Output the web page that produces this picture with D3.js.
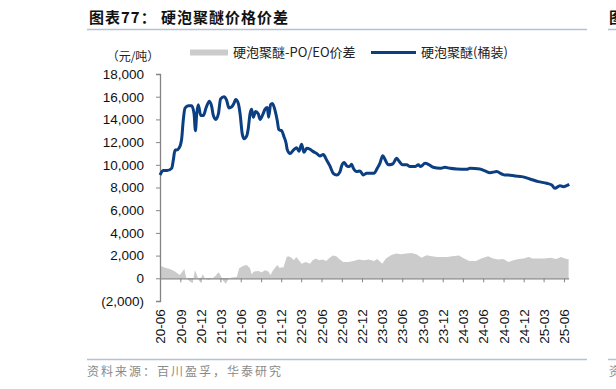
<!DOCTYPE html>
<html>
<head>
<meta charset="utf-8">
<script src="https://cdn.jsdelivr.net/npm/d3@7"></script>
<style>
  html, body { margin: 0; padding: 0; background: #fff; }
  svg { display: block; }
  .cjk { font-family: "Noto Sans CJK SC", sans-serif; }
  .num { font-family: "Liberation Sans", Arial, sans-serif; }
</style>
</head>
<body>
<div id="chart"></div>
<script>
// 硬泡聚醚(桶装) price, yuan/ton
const priceDates = [
  '2020-06-01','2020-06-16','2020-07-03','2020-07-24','2020-07-31','2020-08-08','2020-08-15','2020-08-27','2020-09-07','2020-09-14',
  '2020-09-22','2020-10-07','2020-10-22','2020-11-02','2020-11-08','2020-11-14','2020-11-21','2020-12-02','2020-12-14','2020-12-26',
  '2021-01-10','2021-01-21','2021-01-28','2021-02-08','2021-02-20','2021-03-02','2021-03-17','2021-03-29','2021-04-09','2021-04-21',
  '2021-05-01','2021-05-09','2021-05-21','2021-05-29','2021-06-08','2021-06-16','2021-06-28','2021-07-05','2021-07-13','2021-07-20',
  '2021-07-28','2021-08-07','2021-08-19','2021-08-27','2021-09-08','2021-09-19','2021-09-29','2021-10-05','2021-10-14','2021-10-22',
  '2021-11-03','2021-11-13','2021-11-20','2021-12-03','2021-12-13','2021-12-23','2021-12-28',
  '2022-01-10','2022-01-25','2022-02-09','2022-02-19','2022-03-03','2022-03-14','2022-03-26','2022-04-10','2022-04-25','2022-05-10',
  '2022-05-25','2022-06-09','2022-06-24','2022-07-09','2022-07-24','2022-08-09','2022-08-24','2022-08-31','2022-09-12','2022-09-23',
  '2022-10-05','2022-10-15','2022-10-23','2022-11-07','2022-11-22','2022-12-07','2022-12-22',
  '2023-01-06','2023-01-24','2023-02-08','2023-02-20','2023-03-05','2023-03-15','2023-03-30','2023-04-19','2023-05-07','2023-05-19',
  '2023-06-03','2023-06-21','2023-07-06','2023-07-29','2023-08-13','2023-08-23','2023-09-12','2023-10-01','2023-10-19','2023-11-19',
  '2023-12-11',
  '2024-01-03','2024-02-02','2024-03-18','2024-04-02','2024-05-17','2024-06-09','2024-07-02','2024-08-01','2024-08-24','2024-09-07',
  '2024-09-22','2024-10-23','2024-11-22','2024-12-29',
  '2025-02-05','2025-03-15','2025-04-07','2025-04-21','2025-05-14','2025-05-29','2025-06-13','2025-06-25'
]
const priceValues = [
  9100,9500,9500,9700,10400,11300,11300,11500,12300,13900,
  15000,15200,15200,14500,13000,14500,15300,14350,14350,15000,
  15600,15100,14350,14000,14500,15800,16000,15700,15000,15100,
  15400,15750,15400,14500,12700,12300,12550,13200,14500,14900,
  14200,14700,14500,14000,14400,14900,15050,14200,15300,15400,
  14800,13900,13100,13000,12500,11900,11350,
  11000,11300,11500,11200,11800,11100,11450,11370,11160,11000,
  10780,10900,10430,9900,9250,9100,9400,9900,10200,9900,
  9840,10040,9690,9400,9450,9100,9250,
  9250,9250,9690,10130,10800,10480,10000,10070,10570,10280,
  10000,10000,9840,9840,10000,9850,10130,10000,9780,9690,
  9780,
  9690,9630,9600,9690,9630,9460,9310,9400,9190,9100,
  9100,9010,8960,8750,
  8520,8370,8220,7930,8160,8070,8160,8280
]

// 硬泡聚醚 - PO/EO spread, yuan/ton
const spreadDates = [
  '2020-06-01','2020-06-24','2020-07-16','2020-08-08','2020-08-23','2020-08-30','2020-09-12','2020-09-19','2020-09-27','2020-10-15',
  '2020-10-27','2020-11-06','2020-11-17','2020-11-26','2020-12-11','2020-12-21',
  '2021-01-05','2021-01-21','2021-02-05','2021-02-20','2021-02-27','2021-03-14','2021-03-26','2021-04-06','2021-04-21','2021-05-14',
  '2021-05-25','2021-06-13','2021-06-28','2021-07-13','2021-07-20','2021-07-31','2021-08-19','2021-09-04','2021-09-19','2021-10-04',
  '2021-10-14','2021-10-23','2021-11-03','2021-11-13','2021-11-25','2021-12-04','2021-12-10','2021-12-18','2021-12-26',
  '2022-01-04','2022-01-16','2022-01-27','2022-02-07','2022-02-19','2022-03-03','2022-03-22','2022-04-10','2022-04-22','2022-05-07',
  '2022-05-22','2022-06-07','2022-06-22','2022-07-08','2022-07-23','2022-08-07','2022-08-23','2022-09-07','2022-09-30','2022-10-24',
  '2022-11-16','2022-12-09',
  '2023-01-01','2023-01-24','2023-02-08','2023-03-03','2023-03-19','2023-04-11','2023-05-04','2023-05-27','2023-06-19','2023-07-12',
  '2023-08-04','2023-08-27','2023-09-19','2023-10-13','2023-11-05','2023-12-21',
  '2024-01-13','2024-02-12','2024-03-07','2024-03-30','2024-04-29','2024-05-23','2024-06-23','2024-07-16','2024-08-08','2024-08-31',
  '2024-09-23','2024-10-16','2024-11-08','2024-12-01','2024-12-24',
  '2025-01-09','2025-03-04','2025-04-03','2025-04-26','2025-05-19','2025-06-12','2025-06-22'
]
const spreadValues = [
  1100,940,820,590,380,300,650,820,60,-300,
  -410,735,150,-300,350,30,
  -120,-50,180,530,350,-240,-470,-60,60,120,
  880,1100,1180,880,350,590,650,530,700,590,
  300,650,940,1180,880,1000,900,1400,1900,
  1940,1820,1590,1880,1590,1290,1440,1290,1590,1740,
  1590,1650,1530,1820,2000,1940,1650,1440,1440,1530,
  1650,1590,
  1650,1530,1710,1290,1740,2030,2180,2120,2180,2240,
  2120,1820,2030,1940,1880,1880,
  1940,2000,1740,1530,1530,1740,1940,1740,1650,1710,
  1440,1590,1710,1740,1880,
  1740,1740,1820,1710,1880,1710,1700
]

const xTickLabels = ['20-06','20-09','20-12','21-03','21-06','21-09','21-12','22-03','22-06','22-09','22-12',
  '23-03','23-06','23-09','23-12','24-03','24-06','24-09','24-12','25-03','25-06']
const yTickValues = [-2000, 0, 2000, 4000, 6000, 8000, 10000, 12000, 14000, 16000, 18000]
const seriesNames = ['硬泡聚醚-PO/EO价差', '硬泡聚醚(桶装)']

const width = 616
const height = 389
const lineColor = '#0b3f82'
const areaColor = '#cbcbcb'
const axisColor = '#858585'
const ruleColor = '#b3c3d4'

const parseDate = d3.timeParse('%Y-%m-%d')
const parseTick = d3.timeParse('%y-%m')
const price = priceDates.map((d, i) => ({ date: parseDate(d), value: priceValues[i] }))
const spread = spreadDates.map((d, i) => ({ date: parseDate(d), value: spreadValues[i] }))
const tickDates = xTickLabels.map(parseTick)

const svg = d3.select('#chart').append('svg')
  .attr('width', width)
  .attr('height', height)

// Scales
const x = d3.scaleTime()
  .domain([parseDate('2020-06-01'), parseDate('2025-06-22')])
  .range([160, 568.6])
const y = d3.scaleLinear()
  .domain([-2000, 18000])
  .range([301, 74])

// Title and rules
svg.append('text')
  .attr('class', 'cjk')
  .attr('x', 89).attr('y', 23)
  .attr('font-size', 15).attr('font-weight', 700)
  .attr('letter-spacing', 1)
  .attr('fill', '#111')
  .text('图表77： 硬泡聚醚价格价差')
svg.append('text')
  .attr('class', 'cjk')
  .attr('x', 609).attr('y', 23)
  .attr('font-size', 15).attr('font-weight', 700)
  .attr('fill', '#111')
  .text('图')
svg.append('line')
  .attr('x1', 87).attr('x2', 587).attr('y1', 29.5).attr('y2', 29.5)
  .attr('stroke', ruleColor).attr('stroke-width', 1.5)
svg.append('line')
  .attr('x1', 608).attr('x2', 616).attr('y1', 29.5).attr('y2', 29.5)
  .attr('stroke', ruleColor).attr('stroke-width', 1.5)

// Unit
svg.append('text')
  .attr('class', 'cjk')
  .attr('x', 133).attr('y', 61)
  .attr('text-anchor', 'middle')
  .attr('font-size', 12)
  .attr('fill', '#222')
  .text('（元/吨）')

// Legend
const legend = svg.append('g').attr('class', 'legend')
legend.append('rect')
  .attr('x', 190).attr('y', 49.5).attr('width', 38).attr('height', 6)
  .attr('fill', areaColor)
legend.append('text')
  .attr('class', 'cjk')
  .attr('x', 233).attr('y', 57)
  .attr('font-size', 13)
  .attr('fill', '#222')
  .text(seriesNames[0])
legend.append('line')
  .attr('x1', 371).attr('x2', 416).attr('y1', 52.5).attr('y2', 52.5)
  .attr('stroke', lineColor).attr('stroke-width', 3)
legend.append('text')
  .attr('class', 'cjk')
  .attr('x', 421).attr('y', 57)
  .attr('font-size', 13)
  .attr('fill', '#222')
  .text(seriesNames[1])

// Spread area
const area = d3.area()
  .x((d) => x(d.date))
  .y0(y(0))
  .y1((d) => y(d.value))
svg.append('path')
  .datum(spread)
  .attr('d', area)
  .attr('fill', areaColor)

// Y axis
const fmt = d3.format(',')
const yAxis = svg.append('g')
  .attr('class', 'num')
  .attr('transform', 'translate(160,0)')
  .call(d3.axisLeft(y)
    .tickValues(yTickValues)
    .tickSize(4)
    .tickSizeOuter(4)
    .tickPadding(12)
    .tickFormat((v) => (v < 0 ? `(${fmt(-v)})` : fmt(v))))
yAxis.select('.domain').attr('stroke', axisColor).attr('stroke-width', 1.3)
yAxis.selectAll('.tick line').attr('stroke', axisColor)
yAxis.selectAll('.tick text')
  .attr('font-size', 13.5)
  .attr('font-family', '"Liberation Sans", Arial, sans-serif')
  .attr('fill', '#111')

// X axis at zero
const xAxis = svg.append('g')
  .attr('transform', `translate(0,${y(0)})`)
  .call(d3.axisBottom(x)
    .tickValues(tickDates)
    .tickSize(4)
    .tickSizeOuter(0)
    .tickFormat((d, i) => xTickLabels[i]))
xAxis.select('.domain').attr('stroke', axisColor).attr('stroke-width', 1.3)
xAxis.selectAll('.tick line').attr('stroke', axisColor)
xAxis.selectAll('.tick text')
  .attr('transform', 'rotate(-90)')
  .attr('x', -31)
  .attr('y', 0)
  .attr('dy', '0.35em')
  .attr('text-anchor', 'end')
  .attr('font-size', 13.5)
  .attr('font-family', '"Liberation Sans", Arial, sans-serif')
  .attr('fill', '#111')

// Price line
const line = d3.line()
  .x((d) => x(d.date))
  .y((d) => y(d.value))
  .curve(d3.curveMonotoneX)
svg.append('path')
  .datum(price)
  .attr('d', line)
  .attr('fill', 'none')
  .attr('stroke', lineColor)
  .attr('stroke-width', 3)
  .attr('stroke-linejoin', 'round')

// Footer
svg.append('line')
  .attr('x1', 87).attr('x2', 587).attr('y1', 359.5).attr('y2', 359.5)
  .attr('stroke', ruleColor).attr('stroke-width', 1.5)
svg.append('line')
  .attr('x1', 608).attr('x2', 616).attr('y1', 359.5).attr('y2', 359.5)
  .attr('stroke', ruleColor).attr('stroke-width', 1.5)
svg.append('text')
  .attr('class', 'cjk')
  .attr('x', 87).attr('y', 376)
  .attr('font-size', 12)
  .attr('letter-spacing', 2)
  .attr('fill', '#8a8a8a')
  .text('资料来源：百川盈孚，华泰研究')
svg.append('text')
  .attr('class', 'cjk')
  .attr('x', 609).attr('y', 376)
  .attr('font-size', 12)
  .attr('fill', '#8a8a8a')
  .text('资')
</script>
</body>
</html>
